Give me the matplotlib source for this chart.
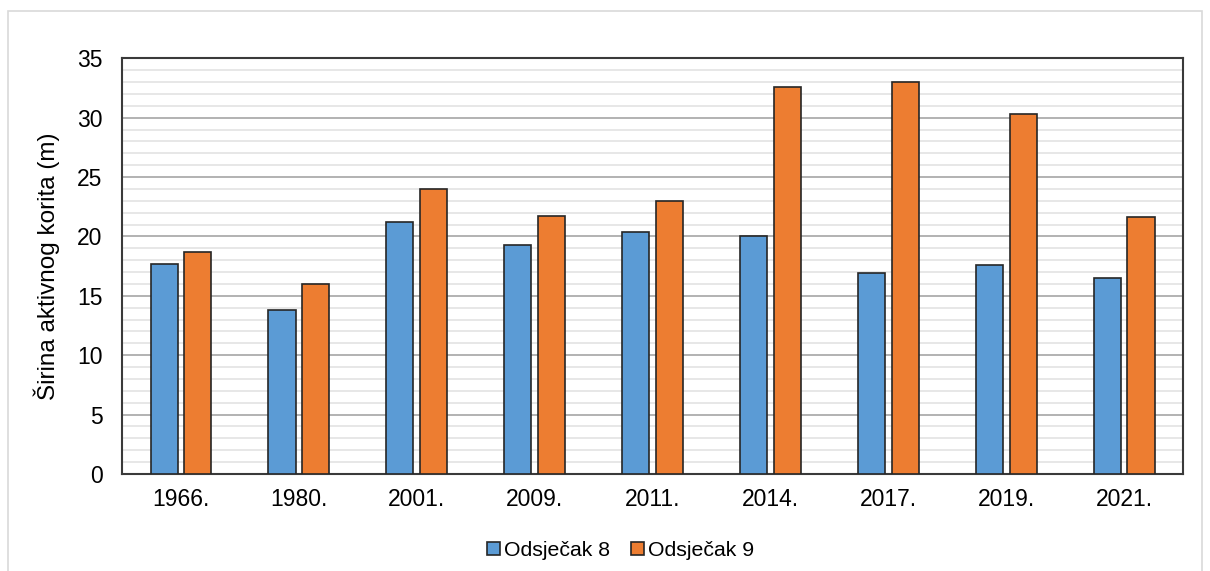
import matplotlib.pyplot as plt
import numpy as np
from matplotlib.patches import Rectangle

plt.rcParams['font.family'] = ['Liberation Sans', 'DejaVu Sans']

years = ['1966.', '1980.', '2001.', '2009.', '2011.', '2014.', '2017.', '2019.', '2021.']
odsjecak8 = [17.7, 13.8, 21.2, 19.3, 20.4, 20.0, 16.9, 17.6, 16.5]
odsjecak9 = [18.7, 16.0, 24.0, 21.7, 23.0, 32.6, 33.0, 30.3, 21.6]

fig = plt.figure(figsize=(12.1, 5.71), dpi=100)
fig.patches.append(Rectangle((0.007, -0.05), 0.986, 1.03, transform=fig.transFigure,
                             fill=False, edgecolor='#d9d9d9', linewidth=1.2))
ax = fig.add_axes([0.1008, 0.17, 0.877, 0.728])

x = np.arange(len(years))
w = 0.23
ax.bar(x - 0.143, odsjecak8, w, color='#5B9BD5', edgecolor='#262626', linewidth=1.2,
       label='Odsječak 8', zorder=3)
ax.bar(x + 0.143, odsjecak9, w, color='#ED7D31', edgecolor='#262626', linewidth=1.2,
       label='Odsječak 9', zorder=3)

ax.set_xlim(-0.5, len(years) - 0.5)
ax.set_ylim(0, 35)
ax.set_yticks(np.arange(0, 36, 5))
ax.set_yticks(np.arange(0, 36, 1), minor=True)
ax.grid(axis='y', which='major', color='#a6a6a6', linewidth=1.2, zorder=0)
ax.grid(axis='y', which='minor', color='#e3e3e3', linewidth=1.2, zorder=0)
ax.set_xticks(x)
ax.set_xticklabels(years)
ax.tick_params(axis='both', which='both', length=0, labelsize=16.5, colors='#000000')
ax.tick_params(axis='y', pad=14)
ax.tick_params(axis='x', pad=10)
for s in ax.spines.values():
    s.set_color('#3a3a3a')
    s.set_linewidth(1.5)

ax.set_ylabel('Širina aktivnog korita (m)', fontsize=17.5, labelpad=12)

ax.legend(loc='upper center', bbox_to_anchor=(0.47, -0.115), ncol=2, frameon=False,
          fontsize=15.3, handlelength=0.6, handleheight=0.6, handletextpad=0.2,
          columnspacing=1.0)

fig.savefig('out.png', dpi=100)
